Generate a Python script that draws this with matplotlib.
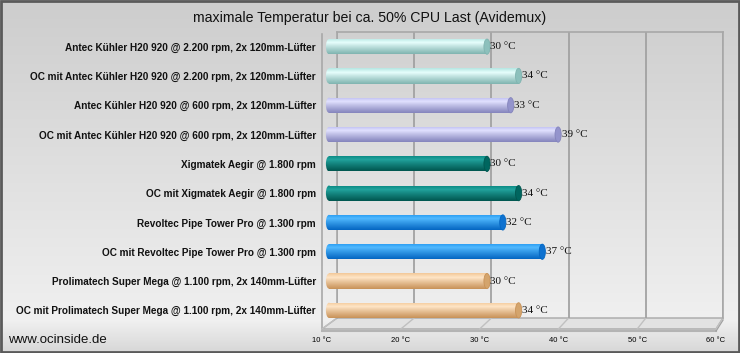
import numpy as np
import matplotlib
matplotlib.use("Agg")
import matplotlib.pyplot as plt
from matplotlib.patches import Ellipse, Polygon, Rectangle
from matplotlib.colors import to_rgb
from matplotlib.lines import Line2D

# ---------------- data ----------------
categories = [
    "Antec Kühler H20 920 @ 2.200 rpm, 2x 120mm-Lüfter",
    "OC mit Antec Kühler H20 920 @ 2.200 rpm, 2x 120mm-Lüfter",
    "Antec Kühler H20 920 @ 600 rpm, 2x 120mm-Lüfter",
    "OC mit Antec Kühler H20 920 @ 600 rpm, 2x 120mm-Lüfter",
    "Xigmatek Aegir @ 1.800 rpm",
    "OC mit Xigmatek Aegir @ 1.800 rpm",
    "Revoltec Pipe Tower Pro @ 1.300 rpm",
    "OC mit Revoltec Pipe Tower Pro @ 1.300 rpm",
    "Prolimatech Super Mega @ 1.100 rpm, 2x 140mm-Lüfter",
    "OC mit Prolimatech Super Mega @ 1.100 rpm, 2x 140mm-Lüfter",
]
values = [30, 34, 33, 39, 30, 34, 32, 37, 30, 34]
groups = ["cyan", "cyan", "lav", "lav", "teal", "teal", "blue", "blue", "peach", "peach"]
xticks = [10, 20, 30, 40, 50, 60]
xtick_labels = ["10 °C", "20 °C", "30 °C", "40 °C", "50 °C", "60 °C"]
x_min, x_max = 10, 60
title = "maximale Temperatur bei ca. 50% CPU Last (Avidemux)"
credit = "www.ocinside.de"
unit = "°C"

# cylinder colour stops: (top edge, highlight, bottom, cap)
palette = {
    "cyan":  ("#b4e6e2", "#e8fffd", "#7fb4b0", "#8cc0bc"),
    "lav":   ("#bcbcf0", "#e2e2ff", "#8484bc", "#9494cc"),
    "teal":  ("#06847e", "#22a49e", "#00564f", "#00665f"),
    "blue":  ("#2498f0", "#52baff", "#0466c2", "#0e72d0"),
    "peach": ("#f2c898", "#ffe6c8", "#c89258", "#d4a46c"),
}

plt.rcParams['font.family'] = ['Liberation Sans', 'DejaVu Sans']

W, H = 740, 353
fig = plt.figure(figsize=(W / 100, H / 100), dpi=100)


def ax_px(x0, y0, x1, y1, **kw):
    return fig.add_axes([x0 / W, 1 - y1 / H, (x1 - x0) / W, (y1 - y0) / H], **kw)


# ---------------- background ----------------
bg = ax_px(0, 0, W, H)
bg.set_xlim(0, W)
bg.set_ylim(H, 0)
bg.axis('off')
yy = np.arange(H)
top_c = np.array(to_rgb("#cdcdcd"))
mid_c = np.array(to_rgb("#f0f0f0"))
bot_c = np.array(to_rgb("#d6d6d6"))
t1 = np.clip(yy / 320.0, 0, 1)[:, None]
t2 = np.clip((yy - 320) / 33.0, 0, 1)[:, None]
grad = top_c * (1 - t1) + mid_c * t1
grad = grad * (1 - t2) + bot_c * t2
bg.imshow(grad[:, None, :], extent=[0, W, H, 0], aspect='auto', zorder=0)
bg.add_patch(Rectangle((1, 1), W - 2.5, H - 2.5, fill=False, edgecolor="#5a5a5a", lw=2, zorder=5))

# floor slab
floor_poly = Polygon([(322, 329), (716, 329), (723, 318), (337, 318)], closed=True,
                     facecolor="#e2e2e2", edgecolor="#a8a8a8", lw=1, zorder=1)
bg.add_patch(floor_poly)
bg.add_line(Line2D([322, 716], [331, 331], color="#b4b4b4", lw=1.5, zorder=1))
bg.add_line(Line2D([716, 723], [331, 320], color="#a0a0a0", lw=1, zorder=1))
# left side edge
bg.add_line(Line2D([322, 322], [34, 329], color="#a8a8a8", lw=1.2, zorder=1))

bg.text(370, 18, title, ha='center', va='center', fontsize=10.2, color="#111111")
bg.text(8, 340, credit, ha='left', va='center', fontsize=9.5, color="#111111")

# ---------------- back wall ----------------
wall = ax_px(337, 32, 723, 318)
wall.set_facecolor('none')
wall.set_xlim(x_min, x_max)
wall.set_ylim(0, 1)
wall.set_xticks(xticks)
wall.set_yticks([])
wall.tick_params(length=0, labelbottom=False)
wall.grid(axis='x', color="#a2a2a2", lw=1.3)
for s in ['top', 'right', 'left']:
    wall.spines[s].set_color("#a8a8a8")
    wall.spines[s].set_linewidth(1.2)
wall.spines['bottom'].set_visible(False)

# ---------------- floor axis (tick labels) ----------------
floor = ax_px(322, 318, 716, 329)
floor.set_facecolor('none')
floor.set_xlim(x_min, x_max)
floor.set_ylim(0, 1)
floor.set_xticks(xticks)
floor.set_xticklabels(xtick_labels, fontsize=5.5)
floor.set_yticks([])
floor.tick_params(length=0, pad=6)
for s in floor.spines.values():
    s.set_visible(False)

# floor grid diagonals: from back wall tick to front floor tick
inv = bg.transData.inverted()
for v in xticks:
    bx, by = inv.transform(wall.transData.transform((v, 0)))
    fx, fy = inv.transform(floor.transData.transform((v, 0)))
    bg.add_line(Line2D([bx, fx], [by, fy], color="#c0c0c0", lw=1, zorder=2))

# ---------------- bars ----------------
# bar axis: 10 °C at x=329 px, 60 °C at x=724 px; a little room left for the rounded ends
px10, px60 = 329, 724
scale = (px60 - px10) / (x_max - x_min)
x_lo = x_min - 1.0
ax = ax_px(px10 - scale * (x_min - x_lo), 32, px60, 325)
ax.set_facecolor('none')
ypos = np.arange(len(categories))
ax.set_yticks(ypos)
ax.set_yticklabels(categories, fontsize=7.2, fontweight='bold', color="#111111")
ax.tick_params(axis='y', length=0, pad=3.6)
ax.set_xticks([])
for s in ax.spines.values():
    s.set_visible(False)

bar_h = 0.52
bars = ax.barh(ypos, np.array(values) - x_min, left=x_min, height=bar_h, color='none', edgecolor='none')

cap_w = 0.78  # in data units (~6 px)


def cyl_gradient(stops, n=64):
    top, hi, bot = [np.array(to_rgb(c)) for c in stops[:3]]
    t = np.linspace(0, 1, n)
    out = np.zeros((n, 3))
    for i, ti in enumerate(t):
        if ti < 0.28:
            f = ti / 0.28
            out[i] = top * (1 - f) + hi * f
        else:
            f = ((ti - 0.28) / 0.72) ** 0.9
            out[i] = hi * (1 - f) + bot * f
    return out[:, None, :]


for rect, v, g in zip(bars, values, groups):
    st = palette[g]
    img = cyl_gradient(st)
    y0 = rect.get_y()
    y1 = y0 + rect.get_height()
    yc = (y0 + y1) / 2
    # body
    im = ax.imshow(img, extent=[x_min - cap_w, v, y1, y0], aspect='auto', zorder=3,
                   interpolation='bilinear')
    im.set_clip_path(rect)
    # left rounded end
    le = Ellipse((x_min, yc), cap_w, rect.get_height(), facecolor='none', edgecolor='none')
    ax.add_patch(le)
    im2 = ax.imshow(img, extent=[x_min - cap_w, v, y1, y0], aspect='auto', zorder=3,
                    interpolation='bilinear')
    im2.set_clip_path(le)
    # right cap
    rc = Ellipse((v, yc), cap_w, rect.get_height(), facecolor=st[3],
                 edgecolor=st[2], lw=0.6, zorder=4)
    ax.add_patch(rc)
    ax.text(v + cap_w / 2 + 0.05, yc, f"{v} {unit}", ha='left', va='center',
            fontsize=8, color="#111111", zorder=5, family=['Liberation Serif'])

ax.set_xlim(x_lo, x_max)
ax.set_ylim(len(categories) - 0.5, -0.5)

fig.savefig("out.png", dpi=100)
